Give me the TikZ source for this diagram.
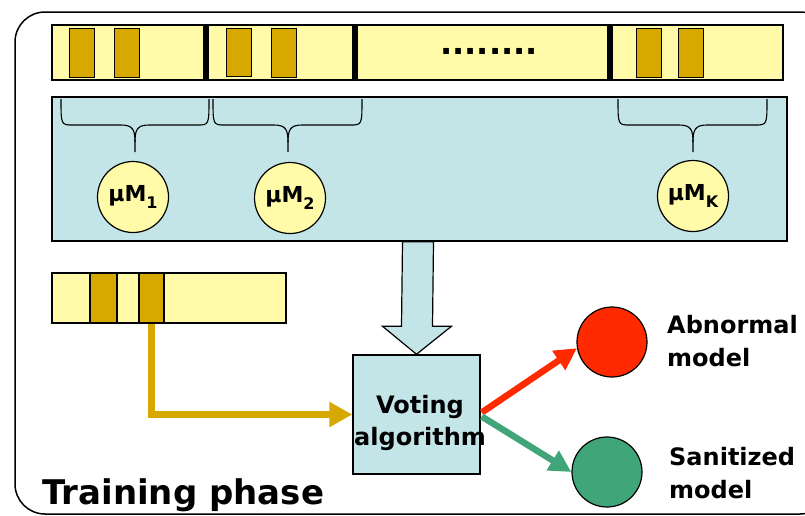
\documentclass[tikz,border=0pt]{standalone}
\usepackage{fontspec}
\setmainfont{DejaVu Sans}
\usetikzlibrary{arrows.meta,calc}
\definecolor{ltyel}{RGB}{255,251,168}
\definecolor{gold}{RGB}{214,168,0}
\definecolor{ltblue}{RGB}{196,229,232}
\definecolor{redc}{RGB}{255,42,0}
\definecolor{greenc}{RGB}{64,166,122}
\tikzset{
  strip/.style={draw=black,line width=1.5pt,fill=ltyel,inner sep=0pt},
  seg/.style={draw=black,line width=1pt,fill=gold,inner sep=0pt},
  sep/.style={fill=black,inner sep=0pt,minimum width=6pt,minimum height=55pt},
  panel/.style={draw=black,line width=1.5pt,fill=ltblue,inner sep=0pt},
  micro/.style={circle,draw=black,line width=1.2pt,fill=ltyel,minimum size=71pt,inner sep=0pt,font=\bfseries},
  model/.style={circle,draw=black,line width=1.2pt,minimum size=70pt,inner sep=0pt},
  lbl/.style={anchor=west,align=left,font=\fontsize{24}{33}\selectfont\bfseries,inner sep=0pt},
  bracestyle/.style={line width=1.1pt},
}
\newcommand{\mulabel}[1]{{\fontsize{22}{22}\selectfont μM}\raisebox{-7pt}{\fontsize{16}{16}\selectfont #1}}
\begin{document}
\begin{tikzpicture}[x=1pt,y=-1pt]
\useasboundingbox (0,0) rectangle (805,515);
% frame
\draw[line width=1.5pt,rounded corners=30pt] (15,12) rectangle (830,514);
% top strip
\node[strip,minimum width=731pt,minimum height=55pt] (strip1) at (417.5,52.5) {};
\node[sep] (s1) at (206,52.5) {};
\node[sep] (s2) at (355,52.5) {};
\node[sep] (s3) at (610,52.5) {};
\node[seg,minimum width=25pt,minimum height=49pt] (a1) at (81.5,52.5) {};
\node[seg,minimum width=25pt,minimum height=49pt] (a2) at (126.5,52.5) {};
\node[seg,minimum width=25pt,minimum height=48pt] (b1) at (238.5,52) {};
\node[seg,minimum width=25pt,minimum height=49pt] (b2) at (283.5,52.5) {};
\node[seg,minimum width=25pt,minimum height=49pt] (k1) at (649,52.5) {};
\node[seg,minimum width=25pt,minimum height=49pt] (k2) at (691,52.5) {};
\node[anchor=base,font=\fontsize{32}{32}\selectfont\bfseries,inner sep=0pt] (dots) at (489,54) {........};
% panel
\node[panel,minimum width=735pt,minimum height=144pt] (panel) at (419.5,169) {};
\foreach \xl/\xc/\xr in {61/135/209, 213/288/362, 618/693/767}{
  \draw[bracestyle] (\xl,99) .. controls (\xl,125) .. (\xl+12,125) -- (\xc-14,125) .. controls (\xc-2,125) and (\xc,130) .. (\xc,142) -- (\xc,152);
  \draw[bracestyle] (\xr,99) .. controls (\xr,125) .. (\xr-12,125) -- (\xc+14,125) .. controls (\xc+2,125) and (\xc,130) .. (\xc,142);
}
\node[micro] (m1) at (133,197) {\mulabel{1}};
\node[micro] (m2) at (290,198) {\mulabel{2}};
\node[micro] (mk) at (693,196) {\mulabel{K}};
% voting box
\node[panel,minimum width=127pt,minimum height=119pt] (vote) at (416.5,414.5) {};
\node[align=center,font=\fontsize{24}{32}\selectfont\bfseries,inner sep=0pt,anchor=base] (vtxt) at (420,445) {Voting\\algorithm};
% hollow arrow
\draw[line width=1.2pt,fill=ltblue] ($(panel.south)+(-17,0)$) -- ($(vote.north)+(-15,-28)$) -- ($(vote.north)+(-34,-28)$) -- (vote.north) -- ($(vote.north)+(35,-28)$) -- ($(vote.north)+(16,-28)$) -- ($(panel.south)+(14,0)$) -- cycle;
% second strip
\node[strip,minimum width=234pt,minimum height=50pt] (strip2) at (169,298) {};
\node[seg,line width=1.5pt,minimum width=27pt,minimum height=50pt] (c1) at (103.5,298) {};
\node[seg,line width=1.5pt,minimum width=25pt,minimum height=50pt] (c2) at (151.5,298) {};
% gold arrow
\draw[gold,line width=7pt,-{Triangle[length=23pt,width=24pt]}] (c2.south) |- (vote.west);
% models
\node[model,fill=redc] (abn) at (612,342) {};
\node[model,fill=greenc] (san) at (607,472) {};
\draw[redc,line width=6.5pt,-{Triangle[length=22pt,width=22pt]}] ($(vote.east)+(1,-2)$) -- (abn.190);
\draw[greenc,line width=6.5pt,-{Triangle[length=22pt,width=22pt]}] ($(vote.east)+(1,2)$) -- (san.west);
\node[lbl] (labn) at (667,341) {Abnormal\\model};
\node[lbl] (lsan) at (669,473) {Sanitized\\model};
\node[anchor=base west,font=\fontsize{34}{34}\selectfont\bfseries,inner sep=0pt] (phase) at (42,504) {Training phase};
\end{tikzpicture}
\end{document}
